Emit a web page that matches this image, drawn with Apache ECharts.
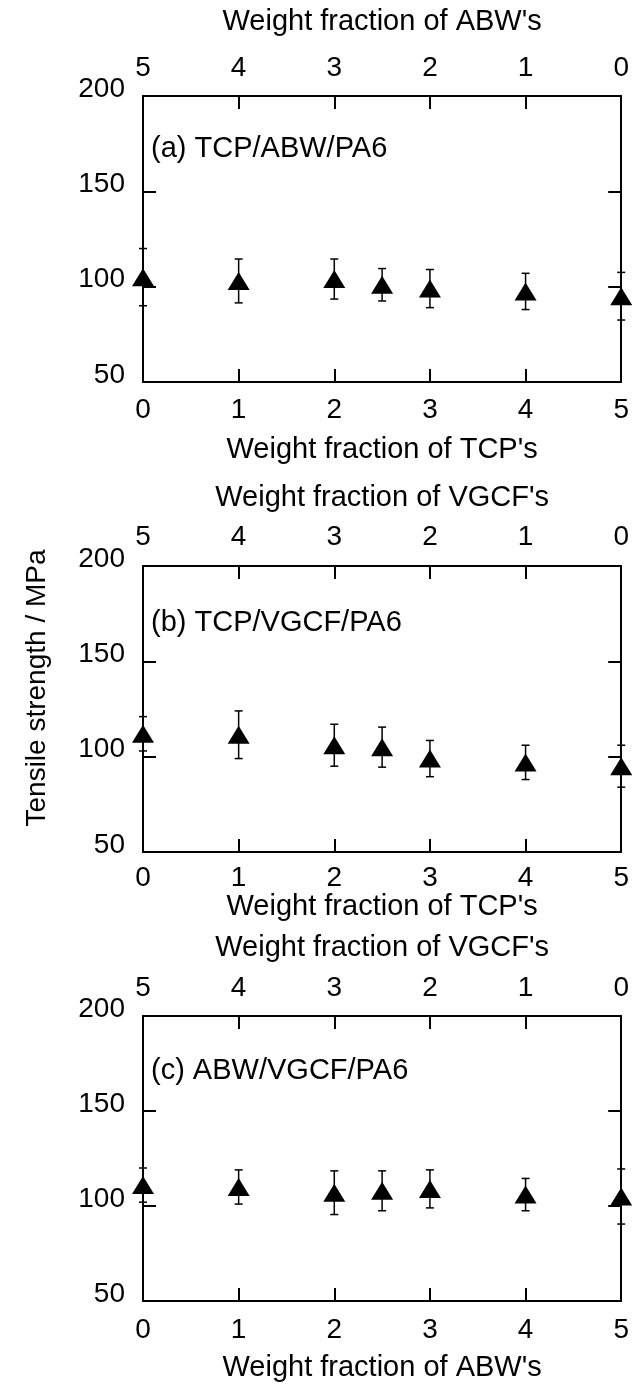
<!DOCTYPE html>
<html>
<head>
<meta charset="utf-8">
<script src="https://cdn.jsdelivr.net/npm/echarts@6/dist/echarts.min.js"></script>
<style>
  html, body { margin: 0; padding: 0; background: #fff; }
  #chart { width: 632px; height: 1389px; }
</style>
</head>
<body>
<div id="chart"></div>
<script>
// weight fraction on the bottom axis (top axis is 5 - x)
const xVals = [0, 1, 2, 2.5, 3, 4, 5]
const topTickLabels = ['5', '4', '3', '2', '1', '0']

// (a) TCP/ABW/PA6
const meanA = [105, 103, 104, 101, 99, 97.5, 95]
const errA = [15, 11.5, 10.5, 8.5, 10, 9.5, 12.5]
// (b) TCP/VGCF/PA6
const meanB = [112, 111.5, 106, 105, 99, 97, 95]
const errB = [9, 12.5, 11, 10.5, 9.5, 9, 11]
// (c) ABW/VGCF/PA6
const meanC = [111, 110, 107, 108, 109, 106, 105]
const errC = [9, 9, 11.5, 10.5, 10, 8.5, 14.5]

const panels = [
  { label: '(a) TCP/ABW/PA6', top: 96, height: 286, topName: "Weight fraction of ABW's", bottomName: "Weight fraction of TCP's",
    topGap: 60, bottomGap: 53, topMargin: 14, bottomMargin: 14, labelY: 150, mean: meanA, err: errA },
  { label: '(b) TCP/VGCF/PA6', top: 566, height: 286, topName: "Weight fraction of VGCF's", bottomName: "Weight fraction of TCP's",
    topGap: 54, bottomGap: 40, topMargin: 15, bottomMargin: 12, labelY: 624, mean: meanB, err: errB },
  { label: '(c) ABW/VGCF/PA6', top: 1016, height: 285, topName: "Weight fraction of VGCF's", bottomName: "Weight fraction of ABW's",
    topGap: 54, bottomGap: 52, topMargin: 14, bottomMargin: 15, labelY: 1072, mean: meanC, err: errC }
]

const FONT = 'Liberation Sans, Arial, Helvetica, sans-serif'
const black = '#000'

const chart = echarts.init(document.getElementById('chart'), null, { renderer: 'canvas' })

const lineStyle = { color: black, width: 2 }
const tick = { show: true, inside: true, length: 13, lineStyle: { color: black, width: 2 } }

const grid = []
const xAxis = []
const yAxis = []
const series = []
const graphic = []

// vertical error bar with small caps
function errRender(params, api) {
  const x = api.value(0)
  const hi = api.coord([x, api.value(2)])
  const lo = api.coord([x, api.value(1)])
  const w = 4
  const st = { stroke: black, lineWidth: 1.5 }
  return {
    type: 'group',
    children: [
      { type: 'line', shape: { x1: hi[0], y1: hi[1], x2: lo[0], y2: lo[1] }, style: st },
      { type: 'line', shape: { x1: hi[0] - w, y1: hi[1], x2: hi[0] + w, y2: hi[1] }, style: st },
      { type: 'line', shape: { x1: lo[0] - w, y1: lo[1], x2: lo[0] + w, y2: lo[1] }, style: st }
    ]
  }
}

panels.forEach((p, i) => {
  grid.push({ left: 143, right: 10, top: p.top, height: p.height })

  // bottom axis
  xAxis.push({
    type: 'value', gridIndex: i, position: 'bottom', min: 0, max: 5, interval: 1,
    axisLine: { lineStyle }, axisTick: tick, splitLine: { show: false },
    axisLabel: { color: black, fontSize: 28, fontFamily: FONT, margin: p.bottomMargin },
    name: p.bottomName, nameLocation: 'middle', nameGap: p.bottomGap,
    nameTextStyle: { color: black, fontSize: 29, fontFamily: FONT }
  })
  // top axis (complementary fraction)
  xAxis.push({
    type: 'value', gridIndex: i, position: 'top', min: 0, max: 5, interval: 1, inverse: true,
    axisLine: { lineStyle }, axisTick: tick, splitLine: { show: false },
    axisLabel: { color: black, fontSize: 28, fontFamily: FONT, margin: p.topMargin,
      formatter: v => topTickLabels[5 - v] },
    name: p.topName, nameLocation: 'middle', nameGap: p.topGap,
    nameTextStyle: { color: black, fontSize: 29, fontFamily: FONT }
  })

  yAxis.push({
    type: 'value', gridIndex: i, position: 'left', min: 50, max: 200, interval: 50,
    axisLine: { show: true, lineStyle }, axisTick: tick, splitLine: { show: false },
    axisLabel: { color: black, fontSize: 28, fontFamily: FONT, margin: 18,
      verticalAlign: 'bottom', lineHeight: 14 }
  })
  yAxis.push({
    type: 'value', gridIndex: i, position: 'right', min: 50, max: 200, interval: 50,
    axisLine: { show: true, lineStyle }, axisTick: tick, splitLine: { show: false },
    axisLabel: { show: false }
  })

  series.push({
    type: 'custom', xAxisIndex: 2 * i, yAxisIndex: 2 * i,
    renderItem: errRender, z: 2, silent: true,
    encode: { x: 0, y: [1, 2] },
    data: xVals.map((x, k) => [x, p.mean[k] - p.err[k], p.mean[k] + p.err[k]])
  })
  series.push({
    type: 'scatter', xAxisIndex: 2 * i, yAxisIndex: 2 * i, z: 3, clip: false,
    symbol: 'triangle', symbolSize: [22, 18],
    itemStyle: { color: black, opacity: 1 },
    data: xVals.map((x, k) => [x, p.mean[k]])
  })

  graphic.push({
    type: 'text', left: 151, top: p.labelY - 16,
    style: { text: p.label, fill: black, font: '29px ' + FONT }
  })
})

graphic.push({
  type: 'text', x: 37, y: 688, rotation: Math.PI / 2,
  style: { text: 'Tensile strength / MPa', fill: black, font: '28px ' + FONT,
    align: 'center', verticalAlign: 'middle', textAlign: 'center', textVerticalAlign: 'middle' }
})

chart.setOption({
  animation: false,
  backgroundColor: '#fff',
  grid, xAxis, yAxis, series, graphic
})
</script>
</body>
</html>
